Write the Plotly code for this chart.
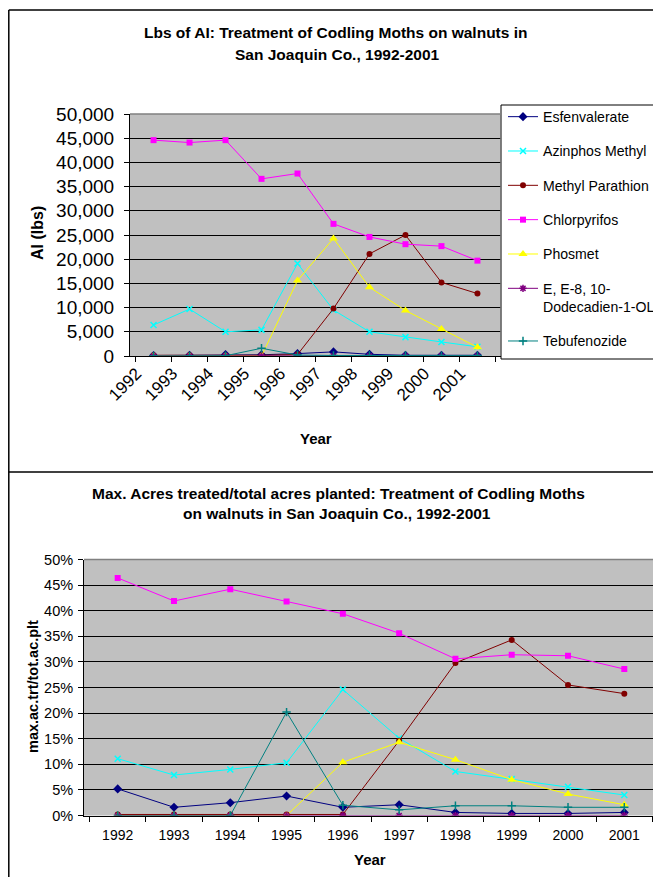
import plotly.graph_objects as go

# the page body adds an 8px margin, so the figure covers the visible window
# minus that offset; all positions below are given in window pixels
OFFSET = 8
W, H = 661 - OFFSET, 877 - OFFSET
FONT = "Arial, 'Liberation Sans', sans-serif"
PLOT_BG = "#C0C0C0"

YEARS = ["1992", "1993", "1994", "1995", "1996", "1997", "1998", "1999", "2000", "2001"]

SERIES = [
    "Esfenvalerate",
    "Azinphos Methyl",
    "Methyl Parathion",
    "Chlorpyrifos",
    "Phosmet",
    "E, E-8, 10-<br>Dodecadien-1-OL",
    "Tebufenozide",
]

# pounds of active ingredient
LBS_ESFENVALERATE = [100, 150, 300, 250, 500, 850, 350, 150, 150, 150]
LBS_AZINPHOS = [6400, 9700, 5000, 5400, 19100, 9500, 5000, 3900, 2900, 1900]
LBS_METHYL_PARATHION = [150, 150, 100, 150, 300, 9800, 21100, 25000, 15200, 12900]
LBS_CHLORPYRIFOS = [44600, 44100, 44600, 36600, 37700, 27300, 24600, 23100, 22700, 19700]
LBS_PHOSMET = [0, 0, 0, 0, 15600, 24300, 14200, 9400, 5600, 1800]
LBS_DODECADIEN = [0, 0, 0, 0, 0, 0, 0, 0, 0, 0]
LBS_TEBUFENOZIDE = [0, 0, 50, 1600, 200, 100, 100, 100, 80, 80]

# max acres treated / total acres planted
PCT_ESFENVALERATE = [0.052, 0.016, 0.025, 0.038, 0.016, 0.021, 0.006, 0.004, 0.004, 0.006]
PCT_AZINPHOS = [0.111, 0.079, 0.090, 0.103, 0.246, 0.151, 0.086, 0.071, 0.056, 0.040]
PCT_METHYL_PARATHION = [0.002, 0.002, 0.002, 0.002, 0.002, 0.146, 0.298, 0.343, 0.255, 0.238]
PCT_CHLORPYRIFOS = [0.464, 0.419, 0.442, 0.418, 0.394, 0.356, 0.306, 0.314, 0.312, 0.286]
PCT_PHOSMET = [0, 0, 0, 0, 0.104, 0.143, 0.109, 0.070, 0.042, 0.021]
PCT_DODECADIEN = [0, 0, 0, 0, 0, 0, 0, 0, 0, 0]
PCT_TEBUFENOZIDE = [0, 0, 0, 0.202, 0.020, 0.011, 0.019, 0.019, 0.016, 0.016]

LBS = [LBS_ESFENVALERATE, LBS_AZINPHOS, LBS_METHYL_PARATHION, LBS_CHLORPYRIFOS,
       LBS_PHOSMET, LBS_DODECADIEN, LBS_TEBUFENOZIDE]
PCT = [PCT_ESFENVALERATE, PCT_AZINPHOS, PCT_METHYL_PARATHION, PCT_CHLORPYRIFOS,
       PCT_PHOSMET, PCT_DODECADIEN, PCT_TEBUFENOZIDE]

# colour, marker symbol, marker size
STYLE = [
    ("#000080", "diamond", 7),
    ("#00FFFF", "x-thin-open", 6),
    ("#800000", "circle", 6),
    ("#FF00FF", "square", 6),
    ("#FFFF00", "triangle-up", 8),
    ("#800080", "asterisk-open", 6),
    ("#008080", "cross-thin-open", 6),
]


def px_x(v):
    return (v - OFFSET) / W


def px_y(v):
    return 1 - (v - OFFSET) / H


def add_series(fig, values, xaxis, yaxis, show_legend):
    for name, ys, (color, symbol, size) in zip(SERIES, values, STYLE):
        thin = symbol.endswith("-open")
        fig.add_trace(go.Scatter(
            x=YEARS, y=ys, name=name, mode="lines+markers",
            xaxis=xaxis, yaxis=yaxis, legendgroup=name, showlegend=show_legend,
            line=dict(color=color, width=1),
            marker=dict(symbol=symbol, size=size, color=color,
                        line=dict(color=color, width=1.5 if thin else 0)),
        ))


fig = go.Figure()
add_series(fig, LBS, "x", "y", True)
add_series(fig, PCT, "x2", "y2", False)

axis_common = dict(
    type="category", showgrid=False, showline=True, linecolor="black", linewidth=1,
    ticks="outside", ticklen=5, tickcolor="black", tickson="boundaries",
    automargin=False, fixedrange=True,
)
yaxis_common = dict(
    showgrid=True, gridcolor="black", gridwidth=1, zeroline=False,
    showline=True, linecolor="black", linewidth=1,
    ticks="outside", ticklen=5, tickcolor="black", automargin=False, fixedrange=True,
)

fig.update_layout(
    width=W, height=H, autosize=False,
    margin=dict(l=0, r=0, t=0, b=0, pad=0, autoexpand=False),
    paper_bgcolor="white", plot_bgcolor=PLOT_BG,
    font=dict(family=FONT, color="black"),
    xaxis=dict(**axis_common, domain=[px_x(130), px_x(501)], anchor="y",
               tickangle=-45, tickfont=dict(family=FONT, size=17, color="black"),
               ticklabelshift=-17),
    yaxis=dict(**yaxis_common, domain=[px_y(356), px_y(114)], anchor="x",
               range=[0, 50000], dtick=5000, tickformat=",",
               tickfont=dict(family=FONT, size=19, color="black"), ticklabelstandoff=6),
    xaxis2=dict(**axis_common, domain=[px_x(84), px_x(658)], anchor="y2",
                tickangle=0, tickfont=dict(family=FONT, size=14, color="black"),
                ticklabelstandoff=7),
    yaxis2=dict(**yaxis_common, domain=[px_y(815.5), px_y(559.5)], anchor="x2",
                range=[0, 0.5], dtick=0.05, tickformat=".0%",
                tickfont=dict(family=FONT, size=14.5, color="black"), ticklabelstandoff=2),
    legend=dict(
        x=px_x(503), xanchor="left", y=px_y(101), yanchor="top",
        bgcolor="rgba(0,0,0,0)", borderwidth=0, valign="top",
        font=dict(family=FONT, size=14.1, color="black"),
        tracegroupgap=13, itemwidth=30,
    ),
)

# chart frames, legend box and plot-area outlines
frame = dict(type="line", xref="paper", yref="paper", line=dict(color="black", width=1.5))
fig.add_shape(**frame, x0=px_x(8.8), x1=1.01, y0=px_y(10), y1=px_y(10))
fig.add_shape(**frame, x0=px_x(8.8), x1=px_x(8.8), y0=px_y(10), y1=-0.01)
fig.add_shape(**frame, x0=px_x(8.8), x1=1.01, y0=px_y(472), y1=px_y(472))
fig.add_shape(type="rect", xref="paper", yref="paper", x0=px_x(501), x1=1.01,
              y0=px_y(359), y1=px_y(105), line=dict(color="black", width=1),
              fillcolor="rgba(0,0,0,0)")
for xr, yr in (("x domain", "y domain"), ("x2 domain", "y2 domain")):
    fig.add_shape(type="path", xref=xr, yref=yr, path="M 0,1 L 1,1 L 1,0",
                  line=dict(color="#808080", width=1.5))

title_font = dict(family=FONT, size=15.5, color="black")
label_font = dict(family=FONT, size=15, color="black")


def text(s, x, y, font, angle=0):
    fig.add_annotation(text=s, x=px_x(x), y=px_y(y), xref="paper", yref="paper",
                       showarrow=False, xanchor="center", yanchor="middle",
                       textangle=angle, font=font)


text("<b>Lbs of AI: Treatment of Codling Moths on walnuts in</b>", 336, 33, title_font)
text("<b>San Joaquin Co., 1992-2001</b>", 337, 55, title_font)
text("<b>AI (lbs)</b>", 38, 233, dict(family=FONT, size=16, color="black"), -90)
text("<b>Year</b>", 316, 438, label_font)

text("<b>Max. Acres treated/total acres planted: Treatment of Codling Moths</b>", 338, 493, title_font)
text("<b>on walnuts in San Joaquin Co., 1992-2001</b>", 337, 513, title_font)
text("<b>max.ac.trt/tot.ac.plt</b>", 33, 687, dict(family=FONT, size=14.5, color="black"), -90)
text("<b>Year</b>", 370, 859, label_font)

fig.write_html("out.html")
